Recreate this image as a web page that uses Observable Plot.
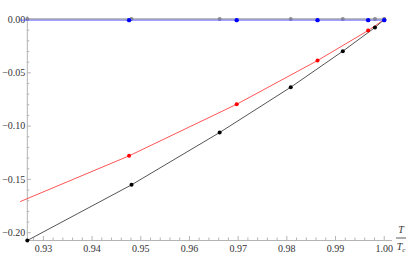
<!DOCTYPE html>
<html><head><meta charset="utf-8">
<script src="https://cdn.jsdelivr.net/npm/d3@7"></script>
<script src="https://cdn.jsdelivr.net/npm/@observablehq/plot@0.6"></script>
<style>body{margin:0;background:#fff} #chart svg{overflow:visible}</style>
</head><body><div id="chart"></div>
<script>
// Black series (points joined by lines)
const xBlack = [0.9267, 0.9481, 0.9662, 0.9808, 0.9915, 0.9981, 1.0];
const yBlack = [-0.2073, -0.1551, -0.1060, -0.0635, -0.0297, -0.0075, 0.0];
// Red series: data points and fitted curve
const xRedPts = [0.9476, 0.9697, 0.9863, 0.9967, 1.0];
const yRedPts = [-0.1279, -0.0795, -0.0385, -0.0103, 0.0];
const xRedCurve = [0.9253, 0.9476, 0.9697, 0.9863, 0.9967, 1.0];
const yRedCurve = [-0.1707, -0.1279, -0.0795, -0.0385, -0.0103, 0.0];
// Gray series (near zero, at black x positions)
const xGray = [0.9267, 0.9481, 0.9662, 0.9808, 0.9915, 0.9981, 1.0];
const yGray = [0.0005, 0.0005, 0.0005, 0.0005, 0.0005, 0.0005, 0.0005];
// Blue series (near zero, at red x positions) and its curve
const xBluePts = [0.9476, 0.9697, 0.9863, 0.9967, 1.0];
const yBluePts = [-0.0006, -0.0006, -0.0006, -0.0006, -0.0006];
const xBlueCurve = [0.9253, 0.9476, 0.9697, 0.9863, 0.9967, 1.0];
const yBlueCurve = [-0.0006, -0.0006, -0.0006, -0.0006, -0.0006, -0.0006];
// Ticks
const xTicks = [0.93, 0.94, 0.95, 0.96, 0.97, 0.98, 0.99, 1.00];
const yTicks = [0.00, -0.05, -0.10, -0.15, -0.20];
const xMinor = d3.range(464, 501).map(k => k * 0.002).filter(v => !xTicks.some(t => Math.abs(t - v) < 1e-6));
const yMinor = d3.range(-20, 1).map(k => k * 0.01).filter(v => !yTicks.some(t => Math.abs(t - v) < 1e-6));

const X0 = 0.9267, Y0 = -0.2073; // axes origin
const xDomain = [0.9253, 1.0017], yDomain = [-0.2073, 0.0047];
const W = 409, H = 255, mL = 20, mR = 17, mT = 14, mB = 15;
const kx = (W - mL - mR) / (xDomain[1] - xDomain[0]);
const ky = (H - mT - mB) / (yDomain[1] - yDomain[0]);
const px2x = p => p / kx, px2y = p => p / ky;

const pts = (xs, ys) => xs.map((x, i) => ({x, y: ys[i]}));
const axisColor = "#b4b4b4";
const fmtY = v => Math.abs(v) < 1e-9 ? "0.00" : "\u2212" + Math.abs(v).toFixed(2);

const chart = Plot.plot({
  width: W, height: H,
  marginLeft: mL, marginRight: mR, marginTop: mT, marginBottom: mB,
  x: {domain: xDomain, axis: null},
  y: {domain: yDomain, axis: null},
  style: {fontFamily: "'Liberation Serif', serif", fontSize: "10px", background: "#fff"},
  marks: [
    // axes lines
    Plot.ruleY([Y0], {x1: X0, x2: xDomain[1], stroke: axisColor}),
    Plot.ruleX([X0], {y1: Y0, y2: 0.003, stroke: axisColor}),
    // x ticks
    Plot.ruleX(xTicks, {y1: Y0, y2: Y0 + px2y(4), stroke: axisColor}),
    Plot.ruleX(xMinor, {y1: Y0, y2: Y0 + px2y(2.5), stroke: axisColor}),
    Plot.text(xTicks, {x: d => d, y: Y0, text: d => d.toFixed(2), dy: 8, fill: "#333"}),
    // y ticks
    Plot.ruleY(yTicks, {x1: X0, x2: X0 + px2x(4), stroke: axisColor}),
    Plot.ruleY(yMinor, {x1: X0, x2: X0 + px2x(2.5), stroke: axisColor}),
    Plot.text(yTicks, {x: X0, y: d => d, text: fmtY, textAnchor: "end", dx: -2, fill: "#333"}),
    // red & black
    Plot.line(pts(xRedCurve, yRedCurve), {x: "x", y: "y", stroke: "#ff5555", strokeWidth: 1}),
    Plot.line(pts(xBlack, yBlack), {x: "x", y: "y", stroke: "#555", strokeWidth: 1}),
    Plot.dot(pts(xRedPts, yRedPts), {x: "x", y: "y", r: 2, fill: "#ff0000"}),
    Plot.dot(pts(xBlack, yBlack), {x: "x", y: "y", r: 2, fill: "#000"}),
    // gray
    Plot.line(pts(xGray, yGray), {x: "x", y: "y", stroke: "#bdbdbd", strokeWidth: 2}),
    Plot.dot(pts(xGray, yGray), {x: "x", y: "y", r: 2, fill: "#8c8c8c"}),
    // blue
    Plot.line(pts(xBlueCurve, yBlueCurve), {x: "x", y: "y", stroke: "#5c5cff", strokeWidth: 0.9}),
    Plot.dot(pts(xBluePts, yBluePts), {x: "x", y: "y", r: 2.2, fill: "#0000ff"})
  ]
});
document.getElementById("chart").appendChild(chart);

// Axis label T / T_c as a fraction at the right end of the x axis
const svg = d3.select(chart);
const sx = chart.scale("x"), sy = chart.scale("y");
const lx = sx.apply(xDomain[1]) + 9, ly = sy.apply(Y0);
const g = svg.append("g").attr("font-family", "'Liberation Serif', serif").attr("font-size", 10).attr("font-style", "italic").attr("fill", "#333");
g.append("text").attr("x", lx).attr("y", ly - 7).attr("text-anchor", "middle").text("T");
g.append("line").attr("x1", lx - 5).attr("x2", lx + 5).attr("y1", ly - 2).attr("y2", ly - 2).attr("stroke", "#333").attr("stroke-width", 0.8);
const t2 = g.append("text").attr("x", lx).attr("y", ly + 10).attr("text-anchor", "middle");
t2.append("tspan").text("T");
t2.append("tspan").attr("font-size", 7).attr("dy", 2).text("c");
</script></body></html>
